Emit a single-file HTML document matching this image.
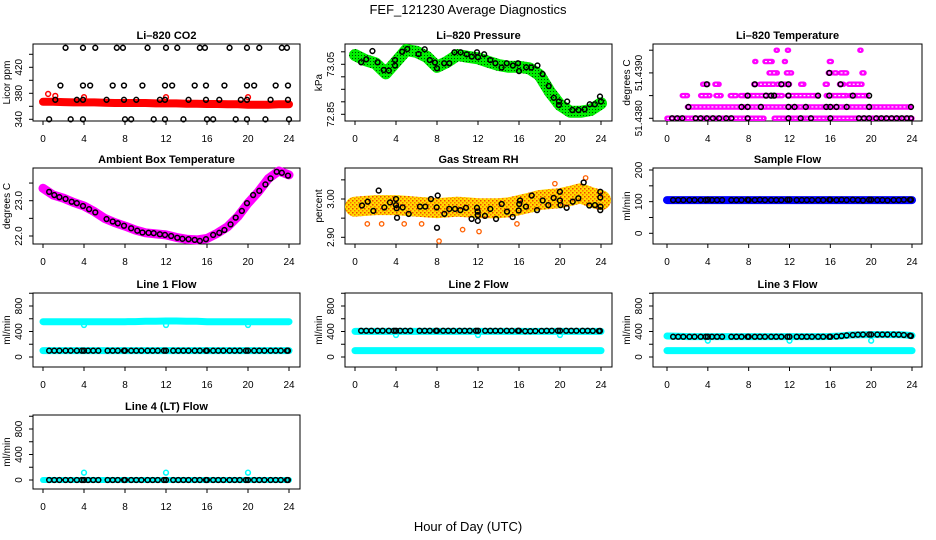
<!DOCTYPE html>
<html><head><meta charset="utf-8"><style>
html,body{margin:0;padding:0;background:#fff;}
svg{display:block;font-family:"Liberation Sans",Arial,sans-serif;}
</style></head><body>
<svg id="chart" width="936" height="540" viewBox="0 0 936 540" xmlns="http://www.w3.org/2000/svg">
<defs>
<pattern id="greenPat" width="3" height="3" patternUnits="userSpaceOnUse"><rect width="3" height="3" fill="#00ee00"/><rect x="1" y="1" width="1" height="1" fill="#004400"/></pattern>
<pattern id="rhPat" width="4" height="4" patternUnits="userSpaceOnUse"><rect width="4" height="4" fill="#ffdc00"/><rect x="0" y="0" width="1.5" height="1.5" fill="#f04000"/><rect x="2" y="2" width="1.5" height="1.5" fill="#ff7000"/></pattern>
</defs>
<text x="468" y="14" font-size="13" text-anchor="middle">FEF_121230  Average Diagnostics</text>
<text x="468" y="531" font-size="13" text-anchor="middle">Hour of Day (UTC)</text>
</svg>
<script>
// ---------- data ----------
const hours=[0,1,2,3,4,5,6,7,8,9,10,11,12,13,14,15,16,17,18,19,20,21,22,23,24];
const xTicks=[0,4,8,12,16,20,24];
// CO2
const co2Band=[367,367,366.5,366,366,366,365.5,365,365,365,365,364.5,364.5,364.5,364,364,363.5,363.5,363,363,362.5,362.5,362.5,363,363];
const co2Levels=[450,392,370,340];
const co2LevelHours=[
 [2.2,3.9,5.1,7.2,7.8,10.2,12.0,13.1,15.3,15.8,18.2,19.9,21.1,23.3,23.8],
 [1.7,3.9,4.6,6.8,7.9,9.7,11.9,12.6,14.8,15.9,17.7,19.9,20.6,22.7,23.9],
 [1.2,3.3,3.9,6.2,7.9,9.1,11.4,11.9,14.2,15.9,17.2,19.3,19.9,22.2,23.9],
 [0.6,2.7,3.9,8.0,8.6,10.8,11.9,13.7,16.0,16.6,18.8,19.9,21.7,24.0]];
const co2RedHours=[0.5,1.2,4.0,12.0,20.0];
const co2RedVals=[379,376,374,374,374];
// Pressure
const presBand=[73.087,73.067,73.054,73.014,73.060,73.107,73.100,73.080,73.040,73.060,73.087,73.080,73.074,73.060,73.047,73.040,73.040,73.034,73.007,72.940,72.887,72.860,72.860,72.867,72.894];
const presBlackHours=[0.6,1.1,1.7,2.2,2.8,3.3,3.9,3.9,4.6,5.1,6.2,6.8,7.3,7.8,8.0,8.7,9.2,9.7,10.3,10.9,11.4,11.9,12.0,12.6,13.2,13.7,14.3,14.8,15.4,15.9,16.0,16.7,17.2,17.8,18.3,18.9,19.4,19.9,19.9,20.7,21.2,21.8,22.4,22.9,23.4,23.9,24.0];
const presBlackVals=[73.058,73.070,73.103,73.058,73.027,73.025,73.067,73.045,73.100,73.111,73.091,73.110,73.067,73.057,73.034,73.054,73.054,73.098,73.098,73.090,73.081,73.098,73.078,73.090,73.067,73.054,73.037,73.054,73.045,73.054,73.023,73.038,73.037,73.045,73.011,72.963,72.916,72.901,72.887,72.901,72.867,72.867,72.870,72.890,72.890,72.921,72.901];
// Li-820 temperature (levels of 0.00025 above 51.4380)
const tempBase=51.4380, tempStep=0.00025;
const tempMagLevel=[0,0,0,1,2,2,2,2,2,2,2,2,3,3,3,3,3,3,3,3,3,4,4,4,4,4,4,5,5,5,5,6,6,6];
const tempMagStart=[0.0,10.5,11.7,2.0,1.5,3.3,4.8,6.2,7.2,11.8,15.6,17.9,3.5,4.7,8.5,9.1,10.8,13.1,15.5,16.9,17.8,10.0,11.7,15.8,16.4,17.0,19.1,8.6,9.6,11.5,15.9,10.7,11.8,18.9];
const tempMagEnd=[9.5,11.5,24.0,23.8,2.0,4.2,5.3,6.8,11.3,14.8,17.6,19.6,4.0,5.1,8.7,10.5,12.0,13.4,15.7,17.3,19.1,10.8,12.2,16.1,16.6,17.6,19.3,8.7,10.3,11.6,16.1,10.8,11.9,19.0];
const tempBlackLevel=[0,0,0,0,0,0,0,0,0,0,0,0,0,0,0,0,0,0,0,0,0,0,0,0,0,0,1,1,1,1,1,1,1,1,1,1,1,1,1,2,2,2,2,2,2,2,2,2,3,3,3,3,3,4];
const tempBlackHours=[0.5,1.0,1.5,2.8,3.3,3.9,4.5,5.1,5.8,6.3,7.9,11.9,13.1,14.1,16.0,18.8,19.3,19.8,20.5,21.0,21.5,22.0,22.5,23.0,23.5,23.9,2.1,7.3,7.9,9.2,11.9,12.5,13.6,15.6,16.0,16.6,17.6,19.8,23.9,7.9,9.7,10.2,10.5,11.9,14.8,15.9,18.2,19.8,3.9,8.6,11.2,11.9,17.0,15.9];
// Ambient box temperature
const ambBand=[23.35,23.16,23.07,22.95,22.85,22.69,22.50,22.38,22.28,22.17,22.09,22.06,22.03,21.96,21.91,21.89,21.93,22.08,22.26,22.55,22.93,23.25,23.63,23.84,23.73];
const ambBlackHours=[0.6,1.1,1.6,2.2,2.8,3.3,3.9,4.5,5.1,6.2,6.8,7.3,7.9,8.6,9.2,9.7,10.3,10.8,11.4,11.9,12.5,13.1,13.6,14.2,14.8,15.3,15.9,16.6,17.2,17.7,18.3,18.8,19.4,19.9,20.5,21.1,21.7,22.2,22.8,23.3,23.9];
const ambBlackVals=[23.25,23.16,23.10,23.05,22.97,22.93,22.85,22.76,22.67,22.48,22.41,22.36,22.29,22.22,22.15,22.10,22.09,22.08,22.05,22.03,22.00,21.95,21.92,21.91,21.89,21.86,21.91,22.03,22.09,22.17,22.33,22.52,22.71,22.93,23.16,23.28,23.46,23.63,23.82,23.79,23.71];
// Gas stream RH
const rhBand=[2.980,2.982,2.984,2.984,2.984,2.982,2.980,2.978,2.976,2.978,2.980,2.978,2.976,2.976,2.976,2.978,2.984,2.990,2.997,3.000,3.002,3.008,3.015,3.005,2.997];
const rhBlackHours=[0.68,1.24,1.79,2.31,2.86,3.41,4.0,4.0,4.06,4.1,4.65,5.24,6.34,6.86,7.41,7.97,8.0,8.07,8.72,9.2,9.76,10.28,10.83,11.38,11.9,11.97,11.98,11.98,12.68,13.2,13.76,14.31,14.83,15.38,15.97,16.03,16.1,16.68,17.24,17.76,18.31,18.86,19.38,19.99,19.99,20.05,20.65,21.24,21.79,22.31,22.86,23.41,23.93,23.93,23.93,23.95];
const rhBlackVals=[2.983,2.993,2.969,3.022,2.978,2.991,3.000,2.984,2.976,2.951,2.978,2.961,2.980,2.980,3.000,2.978,2.925,3.009,2.961,2.974,2.974,2.971,2.977,2.948,2.977,2.967,2.958,2.943,2.956,2.974,2.948,2.987,2.967,2.953,2.970,2.987,2.996,2.980,3.009,2.971,2.996,2.984,3.003,3.019,2.996,2.984,2.977,2.993,3.002,3.043,2.983,2.984,3.004,3.019,2.971,2.980];
const rhOutHours=[2.6,4.8,6.5,8.2,10.5,12.1,15.8,19.5,22.5,1.2];
const rhOutVals=[2.935,2.935,2.935,2.890,2.920,2.915,2.935,3.040,3.055,2.935];
// Flows
const flowBlackHours=[0.6,1.1,1.6,2.2,2.7,3.3,3.8,4.0,4.4,4.9,5.4,6.3,6.8,7.3,7.9,8.0,8.6,9.1,9.6,10.2,10.7,11.2,11.8,12.0,12.7,13.2,13.7,14.2,14.8,15.3,15.9,16.0,16.6,17.1,17.6,18.2,18.7,19.2,19.8,20.0,20.6,21.1,21.6,22.2,22.7,23.2,23.8,23.9];
const sampleBand=[105,105,105,105,105,105,105,105,105,105,105,105,105,105,105,105,105,105,105,105,105,105,105,105,105];
const sampleBlack=[105,105,105,105,105,105,105,106,105,105,105,105,105,105,106,105,105,106,105,105,105,105,106,106,105,105,105,105,105,105,106,106,105,106,105,106,105,104,106,106,105,105,104,105,105,106,106,106];
const line1Upper=[553,553,553,553,553,553,553,553,553,556,560,562,565,565,562,560,553,553,553,553,553,553,553,553,553];
const line1Lower=[100,100,100,100,100,100,100,100,100,100,100,100,100,100,100,100,100,100,100,100,100,100,100,100,100];
const line1Black=[99,99,99,99,99,99,99,99,99,99,99,99,99,99,99,99,99,99,99,99,99,99,99,99,99,99,99,99,99,99,99,99,99,99,99,99,99,99,99,99,99,99,99,99,99,99,99,99];
const dipHours=[4,12,20];
const line1Dips=[502,502,502];
const line2Upper=[402,402,402,402,402,402,402,402,402,402,402,402,402,402,402,402,402,402,402,402,402,402,402,402,402];
const line2Lower=[100,100,100,100,100,100,100,100,100,100,100,100,100,100,100,100,100,100,100,100,100,100,100,100,100];
const line2Black=[412,412,412,412,412,412,412,412,412,412,412,412,412,412,412,412,412,412,412,412,412,412,412,412,412,412,412,412,412,412,412,412,405,405,408,410,412,412,412,412,412,412,412,412,412,410,408,410];
const line2Dips=[345,345,345];
const line3Upper=[329,325,320,320,320,320,320,320,320,320,320,320,320,320,320,320,322,330,345,350,352,352,352,350,335];
const line3Lower=[100,100,100,100,100,100,100,100,100,100,100,100,100,100,100,100,100,100,100,100,100,100,100,100,100];
const line3Black=[318,318,318,318,318,318,318,318,318,318,318,318,318,318,318,318,318,318,318,318,318,318,318,318,318,318,318,318,318,318,318,318,322,330,338,345,350,352,352,352,352,352,352,352,350,345,335,330];
const line3Dips=[256,256,256];
const line4Cyan=[0,0,0,0,0,0,0,0,0,0,0,0,0,0,0,0,0,0,0,0,0,0,0,0,0];
const line4Black=[0,0,0,0,0,0,0,0,0,0,0,0,0,0,0,0,0,0,0,0,0,0,0,0,0,0,0,0,0,0,0,0,0,0,0,0,0,0,0,0,0,0,0,0,0,0,0,0];
const line4Spikes=[115,115,115];

// ---------- drawing ----------
const NS="http://www.w3.org/2000/svg";
const svg=document.getElementById('chart');
const colL=[33,345,653], colR=[300,612,922], colX0=[43,355,667], colX24=[289,601,912];
const rowT=[44,168,293,415], rowB=[121,244,367,489];
function mk(tag,attrs,parent){const e=document.createElementNS(NS,tag);for(const k in attrs)e.setAttribute(k,attrs[k]);parent.appendChild(e);return e;}
function fmt(v,d){return v.toFixed(d);}
function panel(name,col,row,title,ylab,v0,y0,ppu,ticks,labels,dec){
  const g=mk('g',{},svg);
  
  
  const L=colL[col],R=colR[col],T=rowT[row],B=rowB[row];
  const X=h=>colX0[col]+(colX24[col]-colX0[col])*h/24;
  const Y=v=>y0-(v-v0)*ppu;
  const box=mk('rect',{x:L,y:T,width:R-L,height:B-T,fill:'none',stroke:'#000','stroke-width':1},g);
  
  
  const t=mk('text',{x:(L+R)/2,y:T-5,'font-size':11,'font-weight':'bold','text-anchor':'middle'},g);
  t.textContent=title;
  
  
  const xa=mk('g',{},g);
  
  
  mk('line',{x1:X(0),x2:X(24),y1:B,y2:B,stroke:'#000'},xa);
  xTicks.forEach(h=>{mk('line',{x1:X(h),x2:X(h),y1:B,y2:B+4,stroke:'#000'},xa);
    const tx=mk('text',{x:X(h),y:B+21,'font-size':10,'text-anchor':'middle'},xa);tx.textContent=h;});
  const ya=mk('g',{},g);
  
  
  mk('line',{x1:L,x2:L,y1:Y(ticks[0]),y2:Y(ticks[ticks.length-1]),stroke:'#000'},ya);
  ticks.forEach(v=>{mk('line',{x1:L-4,x2:L,y1:Y(v),y2:Y(v),stroke:'#000'},ya);});
  labels.forEach(v=>{const yy=Y(v);const tx=mk('text',{x:0,y:0,'font-size':10,'text-anchor':'middle',transform:`translate(${L-11},${yy}) rotate(-90)`},ya);tx.textContent=fmt(v,dec);});
  const yl=mk('text',{x:0,y:0,'font-size':10,'text-anchor':'middle',transform:`translate(${L-23},${(T+B)/2}) rotate(-90)`},g);
  yl.textContent=ylab;
  
  
  const cid='clip'+name;
  const cp=mk('clipPath',{id:cid},g);mk('rect',{x:L-4,y:T-4,width:R-L+8,height:B-T+8},cp);
  const data=mk('g',{'clip-path':`url(#${cid})`},g);
  
  
  return {g:data,X,Y};
}
function band(p,hs,vals,stroke,w,nm){
  const pts=hs.map((h,i)=>p.X(h).toFixed(1)+','+p.Y(vals[i]).toFixed(1)).join(' ');
  const pl=mk('polyline',{points:pts,fill:'none',stroke:stroke,'stroke-width':w,'stroke-linecap':'round','stroke-linejoin':'round'},p.g);
  
  
}
function rings(p,hs,vals,color,nm,r,sw){
  hs.forEach((h,i)=>{const c=mk('circle',{cx:p.X(h),cy:p.Y(vals[i]),r:r||2.4,fill:'none',stroke:color,'stroke-width':sw||1.5},p.g);
    
    });
}
// Panel 1: CO2
let p=panel('co2',0,0,'Li\u2013820 CO2','Licor ppm',340,119.3,0.65,[340,360,380,400,420,440],[340,380,420],0);
band(p,hours,co2Band,'#ff0000',8,'co2-band');
rings(p,co2RedHours,co2RedVals,'#ff0000','co2-red-point');
co2Levels.forEach((lv,i)=>rings(p,co2LevelHours[i],co2LevelHours[i].map(()=>lv),'#000','co2-black-point'));
// Panel 2: Pressure
p=panel('pressure',1,0,'Li\u2013820 Pressure','kPa',72.85,114.3,250,[72.85,72.90,72.95,73.00,73.05,73.10],[72.85,73.05],2);
band(p,hours,presBand,'url(#greenPat)',12,'pressure-band');
rings(p,presBlackHours,presBlackVals,'#000','pressure-black-point');
// Panel 3: Li-820 temperature
p=panel('li820-temp',2,0,'Li\u2013820 Temperature','degrees C',51.4380,118.3,45400,[51.4380,51.4385,51.4390,51.4395],[51.4380,51.4390],4);
tempMagLevel.forEach((lv,i)=>{const v=tempBase+lv*tempStep;
  const ln=mk('line',{x1:p.X(tempMagStart[i]),x2:p.X(tempMagEnd[i]),y1:p.Y(v),y2:p.Y(v),stroke:'#ff00ff','stroke-width':5.5,'stroke-linecap':'round'},p.g);
  
  
  const inner=mk('line',{x1:p.X(tempMagStart[i]),x2:p.X(tempMagEnd[i]),y1:p.Y(v),y2:p.Y(v),stroke:'#ffffff','stroke-width':1.2,'stroke-dasharray':'2 2'},p.g);
  
  });
rings(p,tempBlackHours,tempBlackLevel.map(l=>tempBase+l*tempStep),'#000','temp-black-point');
// Panel 4: Ambient box temperature
p=panel('ambient-temp',0,1,'Ambient Box Temperature','degrees C',22.0,236,35.3,[22.0,22.5,23.0,23.5],[22.0,23.0],1);
band(p,hours,ambBand,'#ff00ff',9,'ambient-band');
rings(p,ambBlackHours,ambBlackVals,'#000','ambient-black-point');
// Panel 5: RH
p=panel('gas-rh',1,1,'Gas Stream RH','percent',2.90,237.3,383,[2.90,2.95,3.00,3.05],[2.90,3.00],2);
band(p,hours,rhBand,'url(#rhPat)',20,'rh-band');
rings(p,rhOutHours,rhOutVals,'#ff6000','rh-orange-point',2.2,1.3);
rings(p,rhBlackHours,rhBlackVals,'#000','rh-black-point');
// Panel 6: Sample flow
p=panel('sample-flow',2,1,'Sample Flow','ml/min',0,233.3,0.3165,[0,50,100,150,200],[0,100,200],0);
band(p,hours,sampleBand,'#0000ff',8,'sample-band');
rings(p,flowBlackHours,sampleBlack,'#000','sample-black-point');
const flowTicks=[0,200,400,600,800,1000], flowLabels=[0,400,800];
// Line 1
p=panel('line1-flow',0,2,'Line 1 Flow','ml/min',0,357,0.06375,flowTicks,flowLabels,0);
band(p,hours,line1Upper,'#00ffff',7,'line1-upper-band');
band(p,hours,line1Lower,'#00ffff',7,'line1-lower-band');
rings(p,dipHours,line1Dips,'#00ffff','line1-dip-point');
rings(p,flowBlackHours,line1Black,'#000','line1-black-point');
// Line 2
p=panel('line2-flow',1,2,'Line 2 Flow','ml/min',0,357,0.06375,flowTicks,flowLabels,0);
band(p,hours,line2Upper,'#00ffff',7,'line2-upper-band');
band(p,hours,line2Lower,'#00ffff',7,'line2-lower-band');
rings(p,dipHours,line2Dips,'#00ffff','line2-dip-point');
rings(p,flowBlackHours,line2Black,'#000','line2-black-point');
// Line 3
p=panel('line3-flow',2,2,'Line 3 Flow','ml/min',0,357,0.06375,flowTicks,flowLabels,0);
band(p,hours,line3Upper,'#00ffff',7,'line3-upper-band');
band(p,hours,line3Lower,'#00ffff',7,'line3-lower-band');
rings(p,dipHours,line3Dips,'#00ffff','line3-dip-point');
rings(p,flowBlackHours,line3Black,'#000','line3-black-point');
// Line 4
p=panel('line4-flow',0,3,'Line 4 (LT) Flow','ml/min',0,480,0.06375,flowTicks,flowLabels,0);
band(p,hours,line4Cyan,'#00ffff',6,'line4-band');
rings(p,dipHours,line4Spikes,'#00ffff','line4-spike-point');
rings(p,flowBlackHours,line4Black,'#000','line4-black-point');
</script>
</body></html>
